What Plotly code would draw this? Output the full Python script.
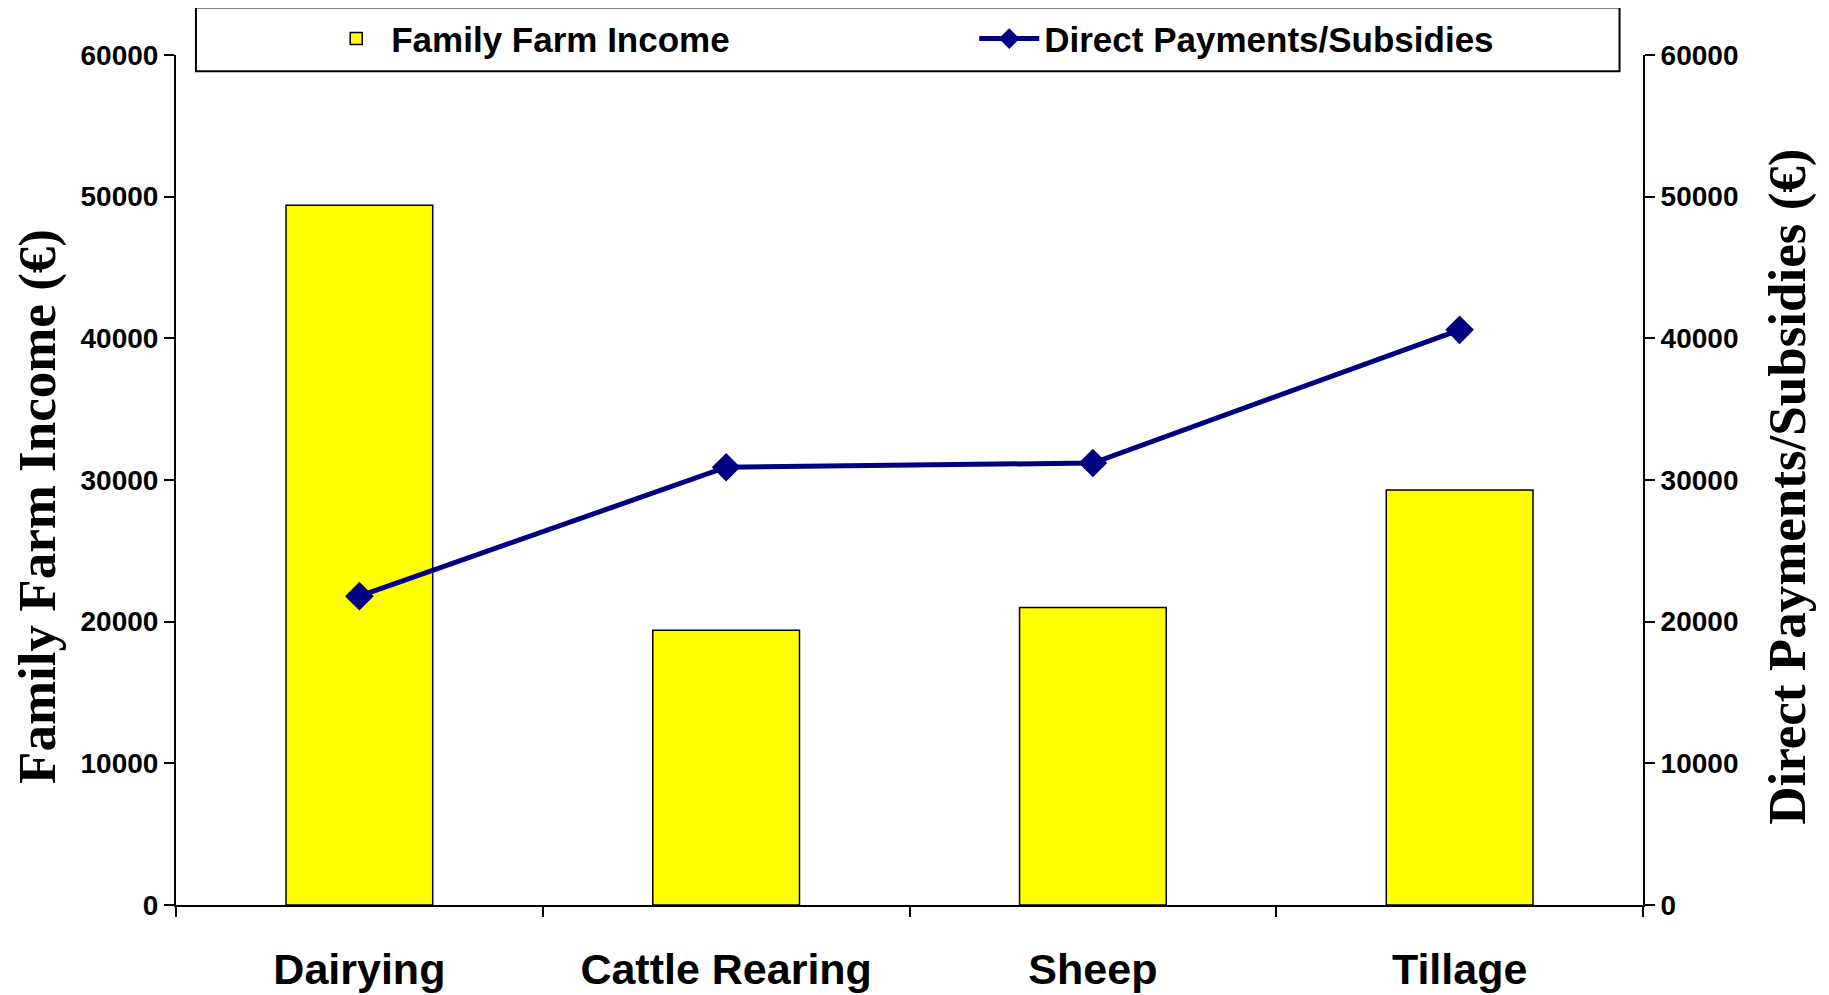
import plotly.graph_objects as go

categories = ["Dairying", "Cattle Rearing", "Sheep", "Tillage"]
family_farm_income = [49400, 19400, 21000, 29300]
direct_payments = [21800, 30900, 31200, 40600]
y_ticks = [0, 10000, 20000, 30000, 40000, 50000, 60000]

fig = go.Figure()
fig.add_trace(go.Bar(
    x=categories, y=family_farm_income, name="<b>Family Farm Income</b>",
    marker=dict(color="#FFFF00", line=dict(color="#000000", width=1.5)),
    width=0.4, yaxis="y",
))
fig.add_trace(go.Scatter(
    x=categories, y=direct_payments, name="<b>Direct Payments/Subsidies</b>",
    mode="lines+markers",
    line=dict(color="#000080", width=5),
    marker=dict(symbol="diamond", size=22, color="#000080"),
    yaxis="y2",
))

tick_font = dict(family="Liberation Sans, Arial", size=28, color="#000000")
title_font = dict(family="Liberation Serif, Times New Roman", size=53, color="#000000")
nb = "\u00a0"

fig.update_layout(
    width=1821, height=987,
    margin=dict(l=168, r=186, t=47, b=90, autoexpand=False),
    paper_bgcolor="white", plot_bgcolor="white",
    showlegend=True,
    legend=dict(
        orientation="h", x=0.099, y=1.019, xanchor="left", yanchor="middle",
        bgcolor="rgba(0,0,0,0)",
        font=dict(family="Liberation Sans, Arial", size=35, color="#000000"),
        entrywidth=578, entrywidthmode="pixels",
        itemwidth=60,
    ),
    xaxis=dict(
        type="category", range=[-0.5, 3.5],
        showline=True, linecolor="#000000", linewidth=2,
        ticks="outside", ticklen=10, tickwidth=2, tickcolor="#000000",
        tickson="boundaries",
        tickvals=categories, ticktext=[f"<b>{c}</b>" for c in categories],
        tickfont=dict(family="Liberation Sans, Arial", size=43, color="#000000"),
        ticklabelstandoff=25,
        showgrid=False, zeroline=False, automargin=False,
    ),
    yaxis=dict(
        range=[0, 60000], tickvals=y_ticks,
        ticktext=[f"<b>{v}</b>" for v in y_ticks],
        showline=True, linecolor="#000000", linewidth=2,
        ticks="outside", ticklen=10, tickwidth=2, tickcolor="#000000",
        tickfont=tick_font, showgrid=False, zeroline=False, automargin=False,
        title=dict(text="<b>Family Farm Income (€)" + nb * 4 + "</b>", font=title_font, standoff=33),
    ),
    yaxis2=dict(
        range=[0, 60000], tickvals=y_ticks,
        ticktext=[f"<b>{v}</b>" for v in y_ticks],
        overlaying="y", side="right",
        showline=True, linecolor="#000000", linewidth=2,
        ticks="outside", ticklen=10, tickwidth=2, tickcolor="#000000",
        tickfont=tick_font, showgrid=False, zeroline=False, automargin=False,
        title=dict(text="<b>Direct Payments/Subsidies (€)" + nb + "</b>", font=title_font, standoff=30),
    ),
    shapes=[dict(
        type="rect", xref="paper", yref="paper",
        x0=0.0136, x1=0.984, y0=0.981, y1=1.056,
        line=dict(color="#000000", width=2), fillcolor="rgba(0,0,0,0)",
    )],
)

fig.write_html("out.html")
